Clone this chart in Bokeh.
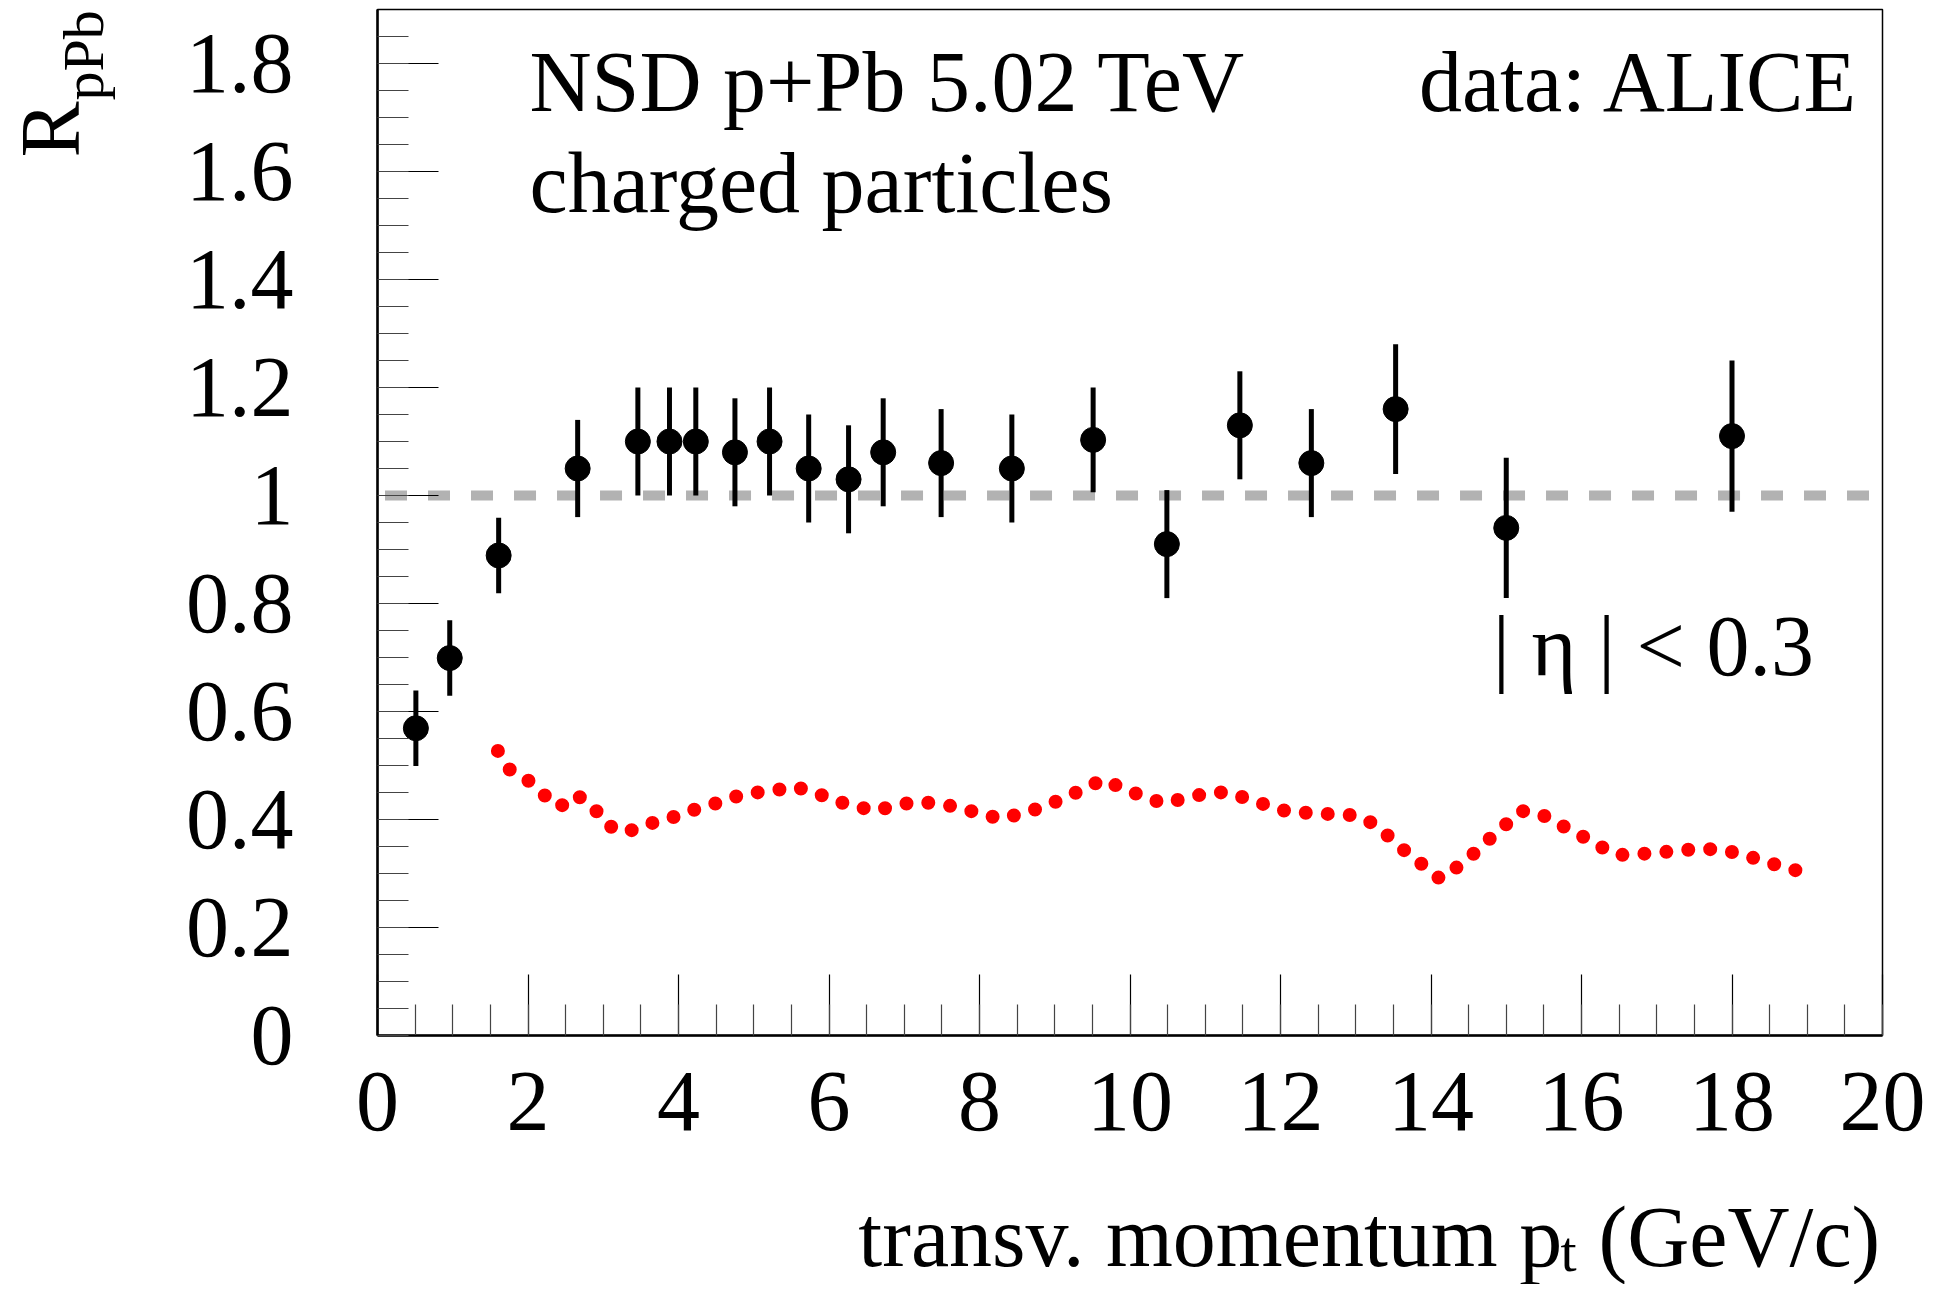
from bokeh.plotting import figure
from bokeh.layouts import row, column
from bokeh.models import (Label, SingleIntervalTicker, CustomJSTickFormatter,
                          ColumnDataSource, Range1d)
from bokeh.embed import file_html
from bokeh.resources import INLINE
import numpy as np

# ---------------- data ----------------
# ALICE data points (pt, R_pPb, error)
data_x = [0.51, 0.96, 1.61, 2.66, 3.46, 3.88, 4.23, 4.75, 5.21, 5.73, 6.26,
          6.72, 7.49, 8.43, 9.51, 10.49, 11.46, 12.41, 13.53, 15.00, 18.00]
data_y = [0.569, 0.699, 0.889, 1.050, 1.100, 1.100, 1.100, 1.080, 1.100, 1.050, 1.030,
          1.080, 1.060, 1.050, 1.103, 0.910, 1.130, 1.060, 1.160, 0.940, 1.110]
data_err = [0.070, 0.070, 0.070, 0.090, 0.100, 0.100, 0.100, 0.100, 0.100, 0.100, 0.100,
            0.100, 0.100, 0.100, 0.097, 0.100, 0.100, 0.100, 0.120, 0.130, 0.140]

# model curve (red dotted)
model_x = [1.60, 1.76, 1.98, 2.19, 2.42, 2.64, 2.87, 3.04, 3.30, 3.57, 3.85, 4.12,
           4.40, 4.67, 4.94, 5.23, 5.52, 5.79, 6.05, 6.34, 6.61, 6.89, 7.17, 7.46,
           7.74, 8.02, 8.30, 8.57, 8.85, 9.11, 9.38, 9.64, 9.90, 10.17, 10.44, 10.72,
           11.01, 11.28, 11.55, 11.83, 12.11, 12.40, 12.68, 12.97, 13.23, 13.46, 13.66,
           13.89, 14.12, 14.33, 14.56, 14.77, 14.98, 15.20, 15.46, 15.72, 15.96, 16.21,
           16.47, 16.76, 17.05, 17.34, 17.62, 17.91, 18.19, 18.46, 18.73, 19.01]
model_y = [0.527, 0.492, 0.475, 0.448, 0.423, 0.446, 0.423, 0.390, 0.376, 0.391, 0.400, 0.415,
           0.425, 0.439, 0.449, 0.452, 0.461, 0.452, 0.436, 0.425, 0.416, 0.426, 0.433, 0.429,
           0.422, 0.410, 0.401, 0.412, 0.423, 0.439, 0.456, 0.474, 0.458, 0.443, 0.430, 0.439,
           0.448, 0.451, 0.439, 0.426, 0.414, 0.412, 0.410, 0.408, 0.393, 0.366, 0.341,
           0.316, 0.290, 0.310, 0.336, 0.363, 0.389, 0.416, 0.410, 0.390, 0.373, 0.353,
           0.334, 0.336, 0.339, 0.343, 0.346, 0.343, 0.333, 0.321, 0.311, 0.299]

# reference line R = 1
ref_x = [0.1, 19.9]
ref_y = [1.0, 1.0]

title_1 = "NSD p+Pb 5.02 TeV"
title_2 = "charged particles"
source_text = "data: ALICE"
cut_text = "| η | < 0.3"
ylabel_main = "R"
ylabel_sub = "pPb"
xlabel_main = "transv. momentum p"
xlabel_sub = "t"
xlabel_unit = "(GeV/c)"

FONT = "Liberation Serif"
LEFT_W = 138
MAIN_W = 1802
MAIN_H = 1175
BOT_H = 109
TOTAL_H = MAIN_H + BOT_H
B_LEFT, B_RIGHT = 239, 58

# ---------------- main figure ----------------
p = figure(frame_width=1505, frame_height=1026,
           min_border_left=B_LEFT, min_border_right=B_RIGHT,
           min_border_top=9, min_border_bottom=MAIN_H - 1026 - 9,
           x_range=Range1d(0, 20), y_range=Range1d(0, 1.9),
           output_backend="svg", toolbar_location=None)

p.background_fill_color = "white"
p.border_fill_color = "white"
p.outline_line_color = "black"
p.outline_line_width = 1.5
p.xgrid.grid_line_color = None
p.ygrid.grid_line_color = None

fmt = CustomJSTickFormatter(code="return String(Math.round(tick*10)/10);")
p.xaxis.ticker = SingleIntervalTicker(interval=2, num_minor_ticks=4)
p.yaxis.ticker = SingleIntervalTicker(interval=0.2, num_minor_ticks=4)
for ax in (p.xaxis, p.yaxis):
    ax.formatter = fmt
    ax.axis_line_width = 2.5
    ax.axis_line_color = "black"
    ax.major_tick_in = 61
    ax.major_tick_out = 0
    ax.minor_tick_in = 31
    ax.minor_tick_out = 0
    ax.major_tick_line_color = "black"
    ax.major_tick_line_width = 1.2
    ax.minor_tick_line_color = "#444444"
    ax.minor_tick_line_width = 1.2
    ax.major_label_text_font = FONT
    ax.major_label_text_font_size = "86px"
    ax.major_label_text_color = "black"
p.yaxis.major_label_standoff = 84
p.xaxis.major_label_standoff = 37

# reference line
p.line(ref_x, ref_y, line_color="#b2b2b2", line_width=10, line_dash="22 21")

# model curve, dotted
p.line(model_x, model_y, line_color="#ff0000", line_width=14,
       line_dash="0 22", line_cap="round")

# data with error bars
dx = np.array(data_x)
dy = np.array(data_y)
de = np.array(data_err)
src = ColumnDataSource(dict(x=dx, y=dy, lo=dy - de, hi=dy + de))
p.segment(x0="x", y0="lo", x1="x", y1="hi", source=src,
          line_color="black", line_width=5)
p.scatter("x", "y", source=src, size=25, fill_color="black", line_color="black")


def lab(fig, x, y, text, size=86, align="left", angle=0):
    fig.add_layout(Label(x=x, y=y, text=text, text_font=FONT,
                         text_font_size=f"{size}px", text_color="black",
                         text_align=align, text_baseline="alphabetic",
                         angle=angle, angle_units="deg"))


lab(p, 2.02, 1.765, title_1)
lab(p, 2.02, 1.578, title_2)
lab(p, 19.71, 1.765, source_text, align="right")
lab(p, 14.82, 0.722, cut_text)


def blank(w, h, xr, bl=0, br=0):
    f = figure(width=w, height=h, x_range=xr, y_range=Range1d(0, h),
               min_border_left=bl, min_border_right=br,
               min_border_top=0, min_border_bottom=0,
               x_axis_type=None, y_axis_type=None,
               output_backend="svg", toolbar_location=None)
    f.outline_line_color = None
    f.background_fill_color = "white"
    f.border_fill_color = "white"
    return f


# y axis title (rotated), in a strip left of the main figure
left = blank(LEFT_W, TOTAL_H, Range1d(0, LEFT_W))
lab(left, 50, TOTAL_H - 157, ylabel_main, size=84, angle=90)
lab(left, 83, TOTAL_H - 100, ylabel_sub, size=58, angle=90)

# x axis title, in a strip below the main figure (same x scale as the plot)
bottom = blank(MAIN_W, BOT_H, Range1d(0, 20), bl=B_LEFT, br=B_RIGHT)
lab(bottom, 6.39, TOTAL_H - 1261 + 25, xlabel_main)
lab(bottom, 15.72, TOTAL_H - 1268 + 17, xlabel_sub, size=58)
lab(bottom, 19.97, TOTAL_H - 1261 + 25, xlabel_unit, align="right")

layout = row(left, column(p, bottom))

open("out.html", "w").write(file_html(layout, INLINE))
